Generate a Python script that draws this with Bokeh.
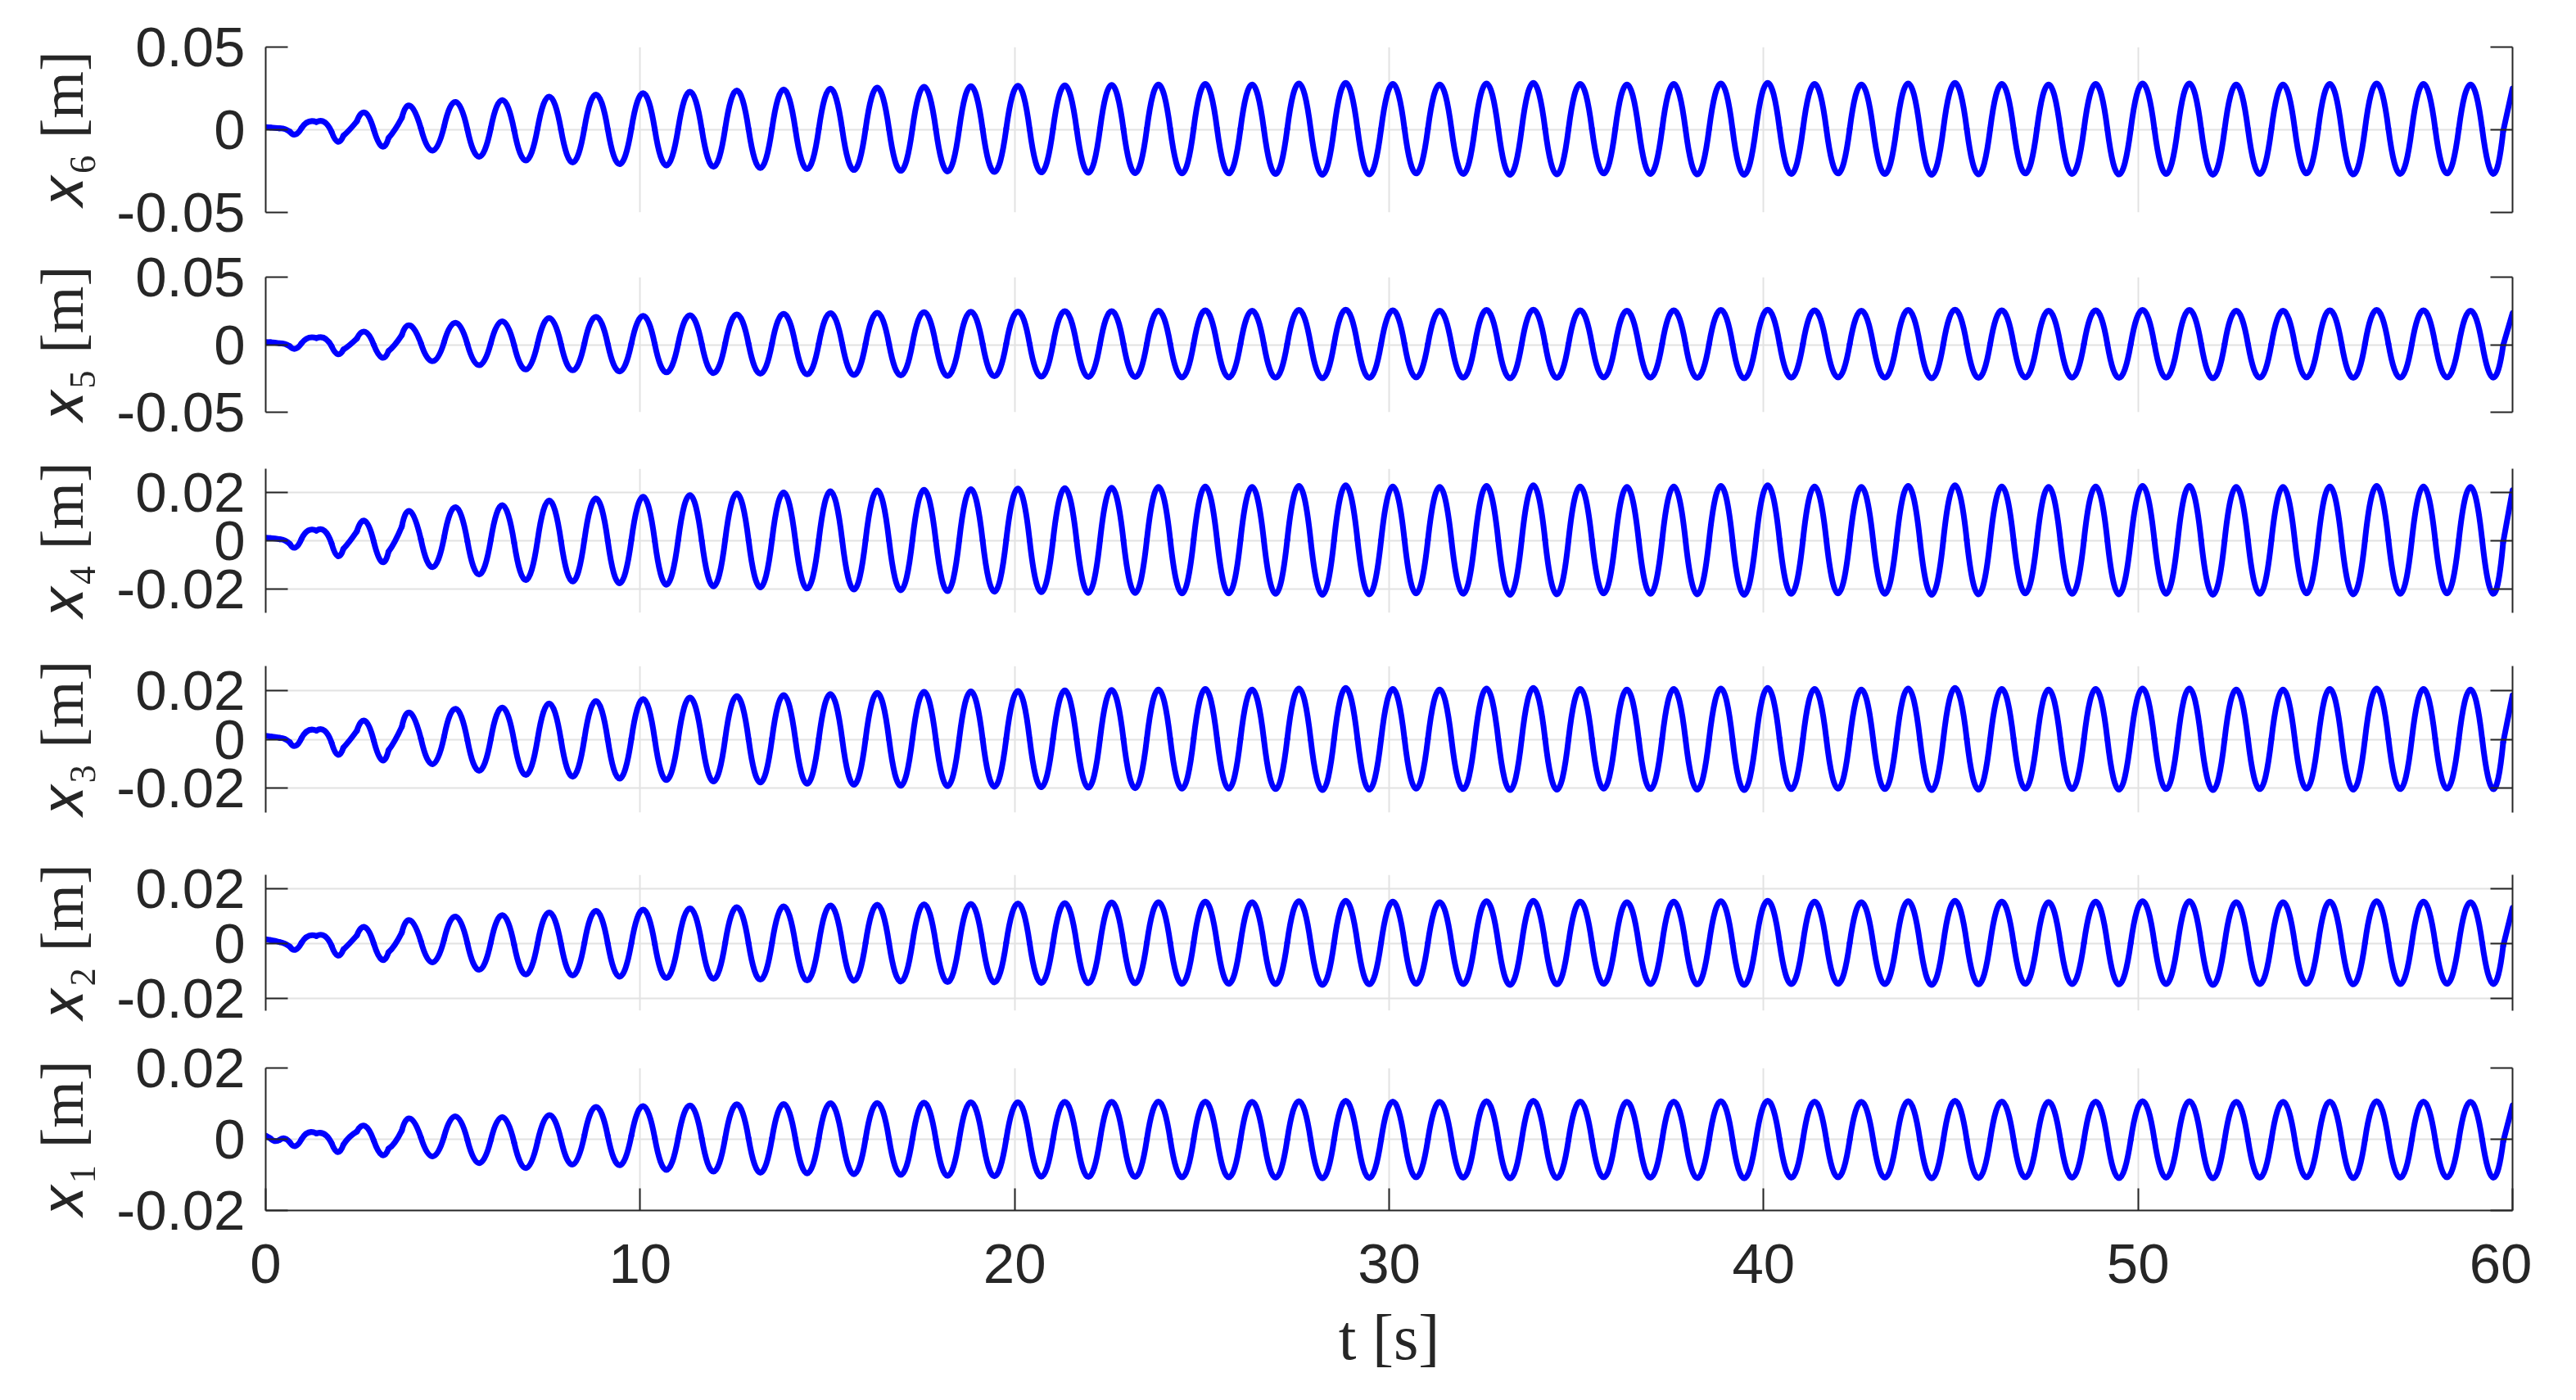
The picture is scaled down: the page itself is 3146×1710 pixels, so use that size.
from bokeh.plotting import figure
from bokeh.layouts import column
from bokeh.models import (Range1d, LinearAxis, FixedTicker, Grid, NumeralTickFormatter,
                          CustomJSTickFormatter, ColumnDataSource)
from bokeh.embed import file_html
from bokeh.resources import INLINE

# ---------------- data ----------------
x_ticks = [0, 10, 20, 30, 40, 50, 60]
x_label = "t [s]"

# shared times of the start-up transient, of the peaks and of the troughs [s]
t_early = [0.0, 0.25, 0.50, 0.79, 1.12, 1.59, 1.93, 2.22, 2.65, 3.12, 3.44, 3.83, 4.46]
t_peaks = [5.07, 6.32, 7.57, 8.82, 10.08, 11.33, 12.58, 13.83, 15.08, 16.33, 17.58, 18.83,
           20.09, 21.34, 22.59, 23.84, 25.09, 26.34, 27.59, 28.84, 30.10, 31.35, 32.60, 33.85,
           35.10, 36.35, 37.60, 38.86, 40.11, 41.36, 42.61, 43.86, 45.11, 46.36, 47.61, 48.87,
           50.12, 51.37, 52.62, 53.87, 55.12, 56.37, 57.62, 58.88]
t_troughs = [5.70, 6.95, 8.20, 9.45, 10.70, 11.96, 13.21, 14.46, 15.71, 16.96, 18.21, 19.46,
             20.71, 21.97, 23.22, 24.47, 25.72, 26.97, 28.22, 29.47, 30.72, 31.98, 33.23, 34.48,
             35.73, 36.98, 38.23, 39.48, 40.74, 41.99, 43.24, 44.49, 45.74, 46.99, 48.24, 49.49,
             50.75, 52.00, 53.25, 54.50, 55.75, 57.00, 58.25, 59.50]
t_end = 60.0

# x6 [m]
x6_early = [0.0016, 0.0012, 0.0005, -0.0028, 0.0048, 0.0046, -0.0072, 0.0000, 0.0103, -0.0100, 0.0000, 0.0144, -0.0126]
x6_peaks = [0.0168, 0.0180, 0.0201, 0.0213, 0.0222, 0.0230, 0.0238, 0.0244, 0.0249, 0.0255, 0.0260, 0.0263,
            0.0266, 0.0269, 0.0271, 0.0273, 0.0277, 0.0274, 0.0280, 0.0283, 0.0277, 0.0274, 0.0280, 0.0283,
            0.0277, 0.0274, 0.0277, 0.0280, 0.0283, 0.0277, 0.0274, 0.0280, 0.0283, 0.0277, 0.0274, 0.0277,
            0.0280, 0.0280, 0.0274, 0.0274, 0.0277, 0.0280, 0.0277, 0.0274]
x6_troughs = [-0.0163, -0.0186, -0.0198, -0.0208, -0.0216, -0.0224, -0.0232, -0.0238, -0.0243, -0.0248, -0.0252, -0.0255,
              -0.0258, -0.0260, -0.0262, -0.0264, -0.0264, -0.0267, -0.0272, -0.0270, -0.0264, -0.0267, -0.0272, -0.0270,
              -0.0264, -0.0267, -0.0270, -0.0272, -0.0267, -0.0264, -0.0267, -0.0272, -0.0270, -0.0264, -0.0267, -0.0270,
              -0.0267, -0.0272, -0.0267, -0.0264, -0.0270, -0.0267, -0.0264, -0.0267]
x6_end = 0.0250

# x5 [m]
x5_early = [0.0020, 0.0015, 0.0005, -0.0030, 0.0050, 0.0048, -0.0070, -0.0003, 0.0095, -0.0095, 0.0000, 0.0142, -0.0122]
x5_peaks = [0.0162, 0.0173, 0.0197, 0.0206, 0.0213, 0.0218, 0.0224, 0.0229, 0.0234, 0.0236, 0.0241, 0.0244,
            0.0246, 0.0249, 0.0249, 0.0251, 0.0254, 0.0251, 0.0257, 0.0259, 0.0254, 0.0251, 0.0257, 0.0259,
            0.0254, 0.0251, 0.0254, 0.0257, 0.0259, 0.0254, 0.0251, 0.0257, 0.0259, 0.0254, 0.0251, 0.0254,
            0.0257, 0.0257, 0.0251, 0.0251, 0.0254, 0.0257, 0.0254, 0.0251]
x5_troughs = [-0.0152, -0.0183, -0.0190, -0.0198, -0.0205, -0.0210, -0.0215, -0.0220, -0.0224, -0.0227, -0.0232, -0.0234,
              -0.0237, -0.0239, -0.0239, -0.0242, -0.0242, -0.0244, -0.0249, -0.0246, -0.0242, -0.0244, -0.0249, -0.0246,
              -0.0242, -0.0244, -0.0246, -0.0249, -0.0244, -0.0242, -0.0244, -0.0249, -0.0246, -0.0242, -0.0244, -0.0246,
              -0.0244, -0.0249, -0.0244, -0.0242, -0.0246, -0.0244, -0.0242, -0.0244]
x5_end = 0.0234

# x4 [m]
x4_early = [0.0013, 0.0010, 0.0002, -0.0028, 0.0043, 0.0041, -0.0064, -0.0003, 0.0082, -0.0088, -0.0003, 0.0122, -0.0110]
x4_peaks = [0.0140, 0.0148, 0.0168, 0.0176, 0.0183, 0.0190, 0.0197, 0.0201, 0.0206, 0.0210, 0.0212, 0.0215,
            0.0217, 0.0219, 0.0221, 0.0224, 0.0226, 0.0224, 0.0228, 0.0231, 0.0226, 0.0224, 0.0228, 0.0231,
            0.0226, 0.0224, 0.0226, 0.0228, 0.0231, 0.0226, 0.0224, 0.0228, 0.0231, 0.0226, 0.0224, 0.0226,
            0.0228, 0.0228, 0.0224, 0.0224, 0.0226, 0.0228, 0.0226, 0.0224]
x4_troughs = [-0.0141, -0.0164, -0.0170, -0.0177, -0.0183, -0.0190, -0.0194, -0.0199, -0.0203, -0.0206, -0.0210, -0.0212,
              -0.0214, -0.0217, -0.0217, -0.0219, -0.0219, -0.0221, -0.0225, -0.0223, -0.0219, -0.0221, -0.0225, -0.0223,
              -0.0219, -0.0221, -0.0223, -0.0225, -0.0221, -0.0219, -0.0221, -0.0225, -0.0223, -0.0219, -0.0221, -0.0223,
              -0.0221, -0.0225, -0.0221, -0.0219, -0.0223, -0.0221, -0.0219, -0.0221]
x4_end = 0.0210

# x3 [m]
x3_early = [0.0014, 0.0010, 0.0002, -0.0027, 0.0036, 0.0035, -0.0063, -0.0005, 0.0075, -0.0085, -0.0005, 0.0108, -0.0102]
x3_peaks = [0.0125, 0.0130, 0.0147, 0.0157, 0.0165, 0.0171, 0.0177, 0.0181, 0.0185, 0.0190, 0.0194, 0.0196,
            0.0198, 0.0200, 0.0202, 0.0204, 0.0206, 0.0204, 0.0208, 0.0210, 0.0206, 0.0204, 0.0208, 0.0210,
            0.0206, 0.0204, 0.0206, 0.0208, 0.0210, 0.0206, 0.0204, 0.0208, 0.0210, 0.0206, 0.0204, 0.0206,
            0.0208, 0.0208, 0.0204, 0.0204, 0.0206, 0.0208, 0.0206, 0.0204]
x3_troughs = [-0.0129, -0.0146, -0.0153, -0.0161, -0.0167, -0.0173, -0.0177, -0.0182, -0.0186, -0.0190, -0.0192, -0.0194,
              -0.0196, -0.0198, -0.0200, -0.0202, -0.0202, -0.0204, -0.0208, -0.0206, -0.0202, -0.0204, -0.0208, -0.0206,
              -0.0202, -0.0204, -0.0206, -0.0208, -0.0204, -0.0202, -0.0204, -0.0208, -0.0206, -0.0202, -0.0204, -0.0206,
              -0.0204, -0.0208, -0.0204, -0.0202, -0.0206, -0.0204, -0.0202, -0.0204]
x3_end = 0.0180

# x2 [m]
x2_early = [0.0015, 0.0010, 0.0000, -0.0023, 0.0027, 0.0027, -0.0044, 0.0000, 0.0059, -0.0059, -0.0005, 0.0084, -0.0069]
x2_peaks = [0.0098, 0.0103, 0.0113, 0.0119, 0.0123, 0.0128, 0.0132, 0.0135, 0.0138, 0.0141, 0.0143, 0.0144,
            0.0146, 0.0147, 0.0149, 0.0150, 0.0152, 0.0150, 0.0154, 0.0155, 0.0152, 0.0150, 0.0154, 0.0155,
            0.0152, 0.0150, 0.0152, 0.0154, 0.0155, 0.0152, 0.0150, 0.0154, 0.0155, 0.0152, 0.0150, 0.0152,
            0.0154, 0.0154, 0.0150, 0.0150, 0.0152, 0.0154, 0.0152, 0.0150]
x2_troughs = [-0.0096, -0.0113, -0.0117, -0.0121, -0.0126, -0.0129, -0.0132, -0.0135, -0.0136, -0.0139, -0.0141, -0.0142,
              -0.0144, -0.0145, -0.0145, -0.0147, -0.0147, -0.0148, -0.0151, -0.0149, -0.0147, -0.0148, -0.0151, -0.0149,
              -0.0147, -0.0148, -0.0149, -0.0151, -0.0148, -0.0147, -0.0148, -0.0151, -0.0149, -0.0147, -0.0148, -0.0149,
              -0.0148, -0.0151, -0.0148, -0.0147, -0.0149, -0.0148, -0.0147, -0.0148]
x2_end = 0.0130

# x1 [m]
x1_early = [0.0010, -0.0005, 0.0002, -0.0019, 0.0019, 0.0014, -0.0036, 0.0006, 0.0037, -0.0044, -0.0009, 0.0058, -0.0048]
x1_peaks = [0.0064, 0.0062, 0.0068, 0.0091, 0.0093, 0.0095, 0.0098, 0.0099, 0.0101, 0.0102, 0.0103, 0.0104,
            0.0104, 0.0105, 0.0105, 0.0106, 0.0106, 0.0105, 0.0107, 0.0108, 0.0106, 0.0105, 0.0107, 0.0108,
            0.0106, 0.0105, 0.0106, 0.0107, 0.0108, 0.0106, 0.0105, 0.0107, 0.0108, 0.0106, 0.0105, 0.0106,
            0.0107, 0.0107, 0.0105, 0.0105, 0.0106, 0.0107, 0.0106, 0.0105]
x1_troughs = [-0.0067, -0.0081, -0.0071, -0.0073, -0.0086, -0.0091, -0.0094, -0.0096, -0.0098, -0.0100, -0.0103, -0.0104,
              -0.0105, -0.0106, -0.0106, -0.0107, -0.0107, -0.0108, -0.0110, -0.0109, -0.0107, -0.0108, -0.0110, -0.0109,
              -0.0107, -0.0108, -0.0109, -0.0110, -0.0108, -0.0107, -0.0108, -0.0110, -0.0109, -0.0107, -0.0108, -0.0109,
              -0.0108, -0.0110, -0.0108, -0.0107, -0.0109, -0.0108, -0.0107, -0.0108]
x1_end = 0.0095

y_labels = ["\U0001D465\u2086 [m]", "\U0001D465\u2085 [m]", "\U0001D465\u2084 [m]",
            "\U0001D465\u2083 [m]", "\U0001D465\u2082 [m]", "\U0001D465\u2081 [m]"]
y_limits = [(-0.05, 0.05), (-0.05, 0.05), (-0.03, 0.03), (-0.03, 0.03), (-0.0245, 0.025), (-0.02, 0.02)]
y_ticks = [[-0.05, 0, 0.05], [-0.05, 0, 0.05], [-0.02, 0, 0.02], [-0.02, 0, 0.02], [-0.02, 0, 0.02], [-0.02, 0, 0.02]]

series = [
    (x6_early, x6_peaks, x6_troughs, x6_end),
    (x5_early, x5_peaks, x5_troughs, x5_end),
    (x4_early, x4_peaks, x4_troughs, x4_end),
    (x3_early, x3_peaks, x3_troughs, x3_end),
    (x2_early, x2_peaks, x2_troughs, x2_end),
    (x1_early, x1_peaks, x1_troughs, x1_end),
]

# ---------------- layout / style ----------------
frame_w = 2744
frame_h = [202, 165, 176, 179, 166, 174]
border_top = [57, 39, 29, 32, 38, 42]
border_bottom = [40, 40, 33, 38, 28, 8]
left_border = 324

TXT = "#262626"
TICK_FONT = "Liberation Sans"
TICK_SIZE = "69px"
LABEL_FONT = "Liberation Serif"
LABEL_SIZE = "74px"
GRID = "#e2e2e2"
LINE_W = 7

x_range = Range1d(0, 60)


def extremes(early, peaks, troughs, end):
    ts = list(t_early)
    ys = list(early)
    for tp, yp, tt, yt in zip(t_peaks, peaks, t_troughs, troughs):
        ts += [tp, tt]
        ys += [yp, yt]
    ts.append(t_end)
    ys.append(end)
    return ts, ys


def curve_sources(ts, ys):
    """Smooth curve through the read extremes: one quadratic arc per extreme,
    joining the midpoints between neighbouring extremes."""
    n = len(ts)
    mx = [(ts[i] + ts[i + 1]) / 2 for i in range(n - 1)]
    my = [(ys[i] + ys[i + 1]) / 2 for i in range(n - 1)]
    q = dict(x0=[], y0=[], x1=[], y1=[], cx=[], cy=[])
    for i in range(1, n - 1):
        q["x0"].append(mx[i - 1]); q["y0"].append(my[i - 1])
        q["x1"].append(mx[i]); q["y1"].append(my[i])
        q["cx"].append(ts[i]); q["cy"].append(2 * ys[i] - (my[i - 1] + my[i]) / 2)
    ends = dict(x0=[ts[0], mx[-1]], y0=[ys[0], my[-1]], x1=[mx[0], ts[-1]], y1=[my[0], ys[-1]])
    return ColumnDataSource(q), ColumnDataSource(ends)


def style_axis(ax):
    ax.axis_line_color = TXT
    ax.axis_line_width = 2
    ax.major_tick_line_color = TXT
    ax.major_tick_line_width = 2
    ax.major_tick_in = 27
    ax.major_tick_out = 0
    ax.minor_tick_line_color = None
    ax.major_label_text_font = TICK_FONT
    ax.major_label_text_font_size = TICK_SIZE
    ax.major_label_text_color = TXT
    ax.axis_label_text_font = LABEL_FONT
    ax.axis_label_text_font_size = LABEL_SIZE
    ax.axis_label_text_font_style = "normal"
    ax.axis_label_text_color = TXT


figs = []
for i in range(6):
    last = (i == 5)
    lo, hi = y_limits[i]
    p = figure(x_range=x_range, y_range=Range1d(lo, hi),
               frame_width=frame_w, frame_height=frame_h[i],
               min_border_left=left_border, min_border_right=24,
               min_border_top=border_top[i], min_border_bottom=border_bottom[i],
               x_axis_location=None, y_axis_location=None,
               toolbar_location=None, tools="", output_backend="svg")
    p.outline_line_color = None
    p.background_fill_color = "white"
    p.border_fill_color = "white"
    p.center = [r for r in p.center if not isinstance(r, Grid)]
    p.add_layout(Grid(dimension=0, ticker=FixedTicker(ticks=x_ticks),
                      grid_line_color=GRID, grid_line_width=2), "center")
    p.add_layout(Grid(dimension=1, ticker=FixedTicker(ticks=y_ticks[i]),
                      grid_line_color=GRID, grid_line_width=2), "center")

    yl = LinearAxis(ticker=FixedTicker(ticks=y_ticks[i]),
                    formatter=NumeralTickFormatter(format="0.[00]"),
                    axis_label=y_labels[i])
    style_axis(yl)
    yl.major_label_standoff = 25
    yl.axis_label_standoff = 22
    p.add_layout(yl, "left")

    yr = LinearAxis(ticker=FixedTicker(ticks=y_ticks[i]),
                    formatter=CustomJSTickFormatter(code="return ''"))
    style_axis(yr)
    yr.major_label_standoff = 0
    yr.major_label_text_font_size = "1px"
    p.add_layout(yr, "right")

    if last:
        xa = LinearAxis(ticker=FixedTicker(ticks=x_ticks), axis_label=x_label)
        style_axis(xa)
        xa.major_label_standoff = 41
        xa.axis_label_standoff = 20
        xa.axis_label_text_font_size = "78px"
        p.add_layout(xa, "below")

    ts, ys = extremes(*series[i])
    qsrc, esrc = curve_sources(ts, ys)
    p.quadratic(x0="x0", y0="y0", x1="x1", y1="y1", cx="cx", cy="cy", source=qsrc,
                line_color="#0000ff", line_width=LINE_W, line_cap="round")
    p.segment(x0="x0", y0="y0", x1="x1", y1="y1", source=esrc,
              line_color="#0000ff", line_width=LINE_W, line_cap="round")
    figs.append(p)

layout = column(*figs, spacing=0)
open("out.html", "w").write(file_html(layout, INLINE))
